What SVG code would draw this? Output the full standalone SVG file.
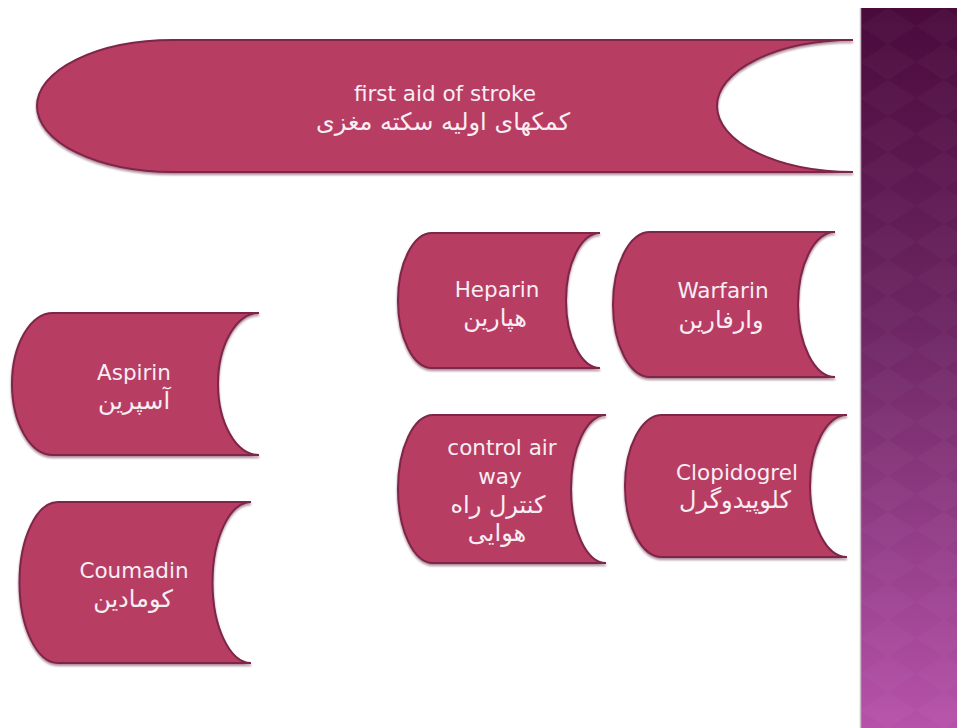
<svg xmlns="http://www.w3.org/2000/svg" width="957" height="728" viewBox="0 0 957 728">
<defs>
<linearGradient id="stripe" x1="0" y1="0" x2="0" y2="1">
<stop offset="0" stop-color="#4a0a3c"/>
<stop offset="0.45" stop-color="#6e2764"/>
<stop offset="1" stop-color="#b652a9"/>
</linearGradient>
<pattern id="diam" x="860" y="8" width="56" height="36" patternUnits="userSpaceOnUse">
<path d="M28 0 L56 18 L28 36 L0 18 Z" fill="#ffffff" fill-opacity="0.022"/>
</pattern>
<filter id="sh" x="-5%" y="-5%" width="110%" height="115%">
<feDropShadow dx="0" dy="2" stdDeviation="1.2" flood-color="#5a1030" flood-opacity="0.5"/>
</filter>
</defs>
<style>
.node{fill:#b83c64;stroke:#7d2549;stroke-width:2;filter:url(#sh)}
.en{font-family:"DejaVu Sans",sans-serif;font-size:21.5px;fill:#f7eef4;text-anchor:middle}
.fa{font-family:"DejaVu Sans",sans-serif;font-size:24px;fill:#f7eef4;text-anchor:middle}
</style>
<rect width="957" height="728" fill="#ffffff"/>
<g id="background-stripe">
<rect x="860" y="8" width="97" height="720" fill="url(#stripe)"/>
<rect x="860" y="8" width="97" height="720" fill="url(#diam)"/>
<line x1="860.5" y1="8" x2="860.5" y2="728" stroke="#c9bcc6" stroke-width="1.5"/>
</g>
<g id="connectors"></g>
<g id="node-first-aid">
<path class="node" d="M173 40 L853 40 A136 66 0 0 0 853 172 L173 172 A136 66 0 0 1 173 40 Z"/>
<text class="en" x="445" y="101">first aid of stroke</text>
<text class="fa" x="443" y="130" direction="rtl">کمکهای اولیه سکته مغزی</text>
</g>
<g id="node-heparin">
<path class="node" d="M432 233 L600 233 A34 67.5 0 0 0 600 368 L432 368 A34 67.5 0 0 1 432 233 Z"/>
<text class="en" x="497" y="297">Heparin</text>
<text class="fa" x="495" y="326" direction="rtl">هپارین</text>
</g>
<g id="node-warfarin">
<path class="node" d="M650 232 L835 232 A37 72.5 0 0 0 835 377 L650 377 A37 72.5 0 0 1 650 232 Z"/>
<text class="en" x="723" y="298">Warfarin</text>
<text class="fa" x="721" y="328" direction="rtl">وارفارین</text>
</g>
<g id="node-aspirin">
<path class="node" d="M53 313 L259 313 A41 71 0 0 0 259 455 L53 455 A41 71 0 0 1 53 313 Z"/>
<text class="en" x="134" y="380">Aspirin</text>
<text class="fa" x="134" y="409" direction="rtl">آسپرین</text>
</g>
<g id="node-coumadin">
<path class="node" d="M58 502 L251 502 A38.5 80.5 0 0 0 251 663 L58 663 A38.5 80.5 0 0 1 58 502 Z"/>
<text class="en" x="134" y="578">Coumadin</text>
<text class="fa" x="133" y="607" direction="rtl">کومادین</text>
</g>
<g id="node-control-air-way">
<path class="node" d="M433 415 L606 415 A35 74 0 0 0 606 563 L433 563 A35 74 0 0 1 433 415 Z"/>
<text class="en" x="502" y="455">control air</text>
<text class="en" x="500" y="484">way</text>
<text class="fa" x="498" y="513" direction="rtl">کنترل راه</text>
<text class="fa" x="497" y="541" direction="rtl">هوایی</text>
</g>
<g id="node-clopidogrel">
<path class="node" d="M662 415 L847 415 A37 71 0 0 0 847 557 L662 557 A37 71 0 0 1 662 415 Z"/>
<text class="en" x="737" y="480">Clopidogrel</text>
<text class="fa" x="735" y="508" direction="rtl">کلوپیدوگرل</text>
</g>
</svg>
